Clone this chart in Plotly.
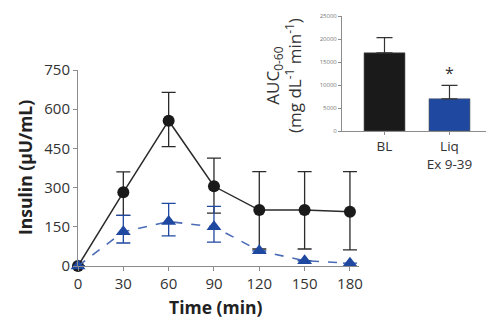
import plotly.graph_objects as go

W, H = 493, 321

# Main chart data
time_min = [0, 30, 60, 90, 120, 150, 180]
bl_vals = [0, 282, 556, 305, 214, 214, 208]
bl_err_plus = [0, 78, 108, 108, 147, 147, 153]
bl_err_minus = [0, 88, 99, 103, 149, 149, 146]
liq_vals = [0, 131, 170, 150, 58, 20, 11]
liq_err_plus = [0, 63, 70, 78, 0, 0, 0]
liq_err_minus = [0, 43, 55, 59, 0, 0, 0]
y_ticks = [0, 150, 300, 450, 600, 750]
x_ticks = [0, 30, 60, 90, 120, 150, 180]

# Inset data
auc_labels = ["BL", "Liq<br>Ex 9-39"]
auc_vals = [17000, 7000]
auc_err = [3300, 2900]
auc_ticks = [0, 5000, 10000, 15000, 20000, 25000]
auc_ticktext = ["0", "5000", "10000", "15000", "20000", "25000"]

BLUE = "#1f48a0"
BLUE_LINE = "#4a6bb5"
BLACK = "#1a1a1a"
AXIS = "#8c8c8c"
FONT = "Open Sans"

fig = go.Figure()

fig.add_trace(go.Scatter(
    x=time_min, y=bl_vals, mode="lines+markers",
    line=dict(color="#2a2a2a", width=1.5),
    marker=dict(symbol="circle", size=12, color=BLACK),
    error_y=dict(type="data", symmetric=False, array=bl_err_plus,
                 arrayminus=bl_err_minus, color="#2a2a2a", thickness=1.3, width=7),
    cliponaxis=False, xaxis="x", yaxis="y", showlegend=False))

fig.add_trace(go.Scatter(
    x=time_min, y=liq_vals, mode="lines+markers",
    line=dict(color=BLUE_LINE, width=1.6, dash="dash"),
    marker=dict(symbol="triangle-up", size=13, color=BLUE),
    error_y=dict(type="data", symmetric=False, array=liq_err_plus,
                 arrayminus=liq_err_minus, color=BLUE, thickness=1.3, width=7),
    cliponaxis=False, xaxis="x", yaxis="y", showlegend=False))

fig.add_trace(go.Bar(
    x=[0, 1], y=auc_vals, width=0.63,
    marker=dict(color=[BLACK, BLUE], line=dict(color="#555", width=0.6)),
    error_y=dict(type="data", array=auc_err, symmetric=False,
                 arrayminus=[0, 0], color="#333", thickness=1.2, width=8),
    xaxis="x2", yaxis="y2", showlegend=False))

# axes domains in pixels
mx0, mx1 = 78, 359
my_top, my_bot = 70, 266
ix0, ix1 = 342, 486
iy_top, iy_bot = 16, 131

fig.update_layout(
    width=W, height=H,
    margin=dict(l=0, r=0, t=0, b=0, autoexpand=False),
    paper_bgcolor="white", plot_bgcolor="white",
    font=dict(family=FONT, color="#333"),
    xaxis=dict(domain=[mx0 / W, mx1 / W], range=[0, 186], automargin=False,
               tickvals=x_ticks, ticks="outside", ticklen=4, tickcolor=AXIS,
               showline=True, linecolor=AXIS, linewidth=1, showgrid=False,
               zeroline=False, tickfont=dict(size=15, color="#333"),
               anchor="y"),
    yaxis=dict(domain=[(H - my_bot) / H, (H - my_top) / H], range=[0, 750],
               automargin=False,
               tickvals=y_ticks, ticks="outside", ticklen=4, tickcolor=AXIS,
               showline=True, linecolor=AXIS, linewidth=1, showgrid=False,
               zeroline=False, tickfont=dict(size=15, color="#333"),
               anchor="x"),
    xaxis2=dict(domain=[ix0 / W, ix1 / W], range=[-0.654, 1.562], automargin=False,
                tickvals=[0, 1], ticktext=auc_labels, ticks="outside", ticklen=3,
                tickcolor=AXIS, showline=True, linecolor=AXIS, linewidth=1,
                showgrid=False, zeroline=False,
                tickfont=dict(size=13.5, color="#333"), anchor="y2"),
    yaxis2=dict(domain=[(H - iy_bot) / H, (H - iy_top) / H], range=[0, 25000],
                automargin=False,
                tickvals=auc_ticks, ticktext=auc_ticktext, ticks="outside",
                ticklen=3, tickcolor=AXIS,
                showline=True, linecolor=AXIS, linewidth=1, showgrid=False,
                zeroline=False, tickfont=dict(size=6, color="#777"), anchor="x2"),
    annotations=[
        dict(x=1, y=12600, xref="x2", yref="y2", text="*", showarrow=False,
             font=dict(size=16, color="#333")),
        dict(x=283 / W, y=(H - 76) / H, xref="paper", yref="paper",
             text="AUC<sub>0-60</sub><br>(mg dL<sup>-1</sup> min<sup>-1</sup>)",
             textangle=-90, showarrow=False, font=dict(size=17, color="#333"),
             xanchor="center", yanchor="middle"),
        dict(x=216 / W, y=(H - 307) / H, xref="paper", yref="paper",
             text="<b>Time (min)</b>", showarrow=False,
             font=dict(size=17.5, color="#222"), xanchor="center", yanchor="middle"),
        dict(x=25 / W, y=(H - 168) / H, xref="paper", yref="paper",
             text="<b>Insulin (µU/mL)</b>", textangle=-90, showarrow=False,
             font=dict(size=17.5, color="#222"), xanchor="center", yanchor="middle"),
    ],
)

fig.write_html("out.html")
